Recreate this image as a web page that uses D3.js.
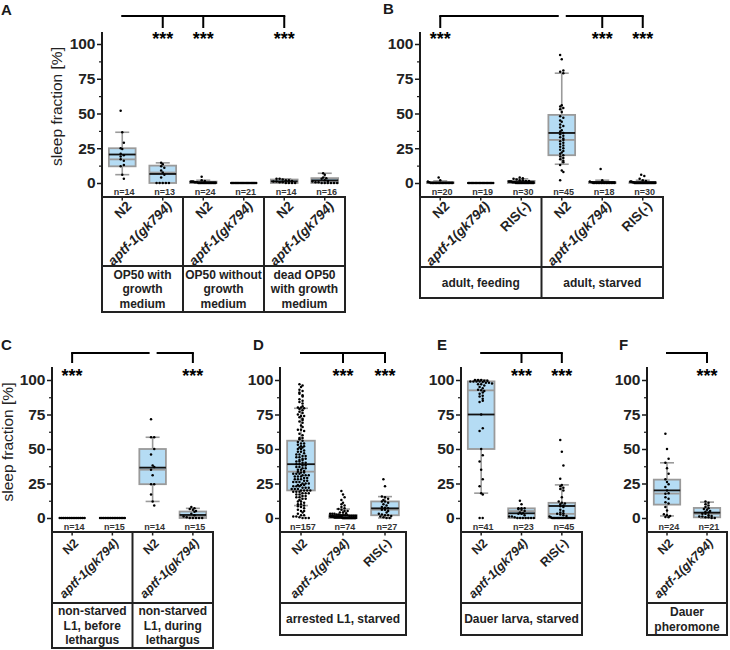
<!DOCTYPE html>
<html><head><meta charset="utf-8">
<script src="https://cdn.jsdelivr.net/npm/d3@7"></script>
<style>
body{margin:0;background:#fff}
svg{display:block}
text{font-family:"Liberation Sans",Arial,Helvetica,sans-serif}
</style>
</head><body>
<svg id="chart" width="730" height="650"></svg>
<script>
// ---------- shared axis ticks ----------
const yTickValues = [0, 25, 50, 75, 100];
const yMinorTickValues = [12.5, 37.5, 62.5, 87.5];
const yAxisTitle = "sleep fraction [%]";

// ---------- Panel A ----------
const aCategories = ["N2", "aptf-1(gk794)", "N2", "aptf-1(gk794)", "N2", "aptf-1(gk794)"];
const aGroupLabels = [["OP50 with", "growth", "medium"], ["OP50 without", "growth", "medium"], ["dead OP50", "with growth", "medium"]];
const aGroupSizes = [2, 2, 2];
const aSampleSizes = [14, 13, 24, 21, 14, 16];
const aQ1 = [12, 0, 0, 0, 0, 0];
const aMedian = [17, 7.5, 0, 0, 0.75, 0.75];
const aMean = [20.5, 6.5, 0.6, 0, 1.2, 1.9];
const aQ3 = [25, 12.5, 1, 0, 2.5, 3.5];
const aWhiskerLow = [6, 0, 0, 0, 0, 0];
const aWhiskerHigh = [36.5, 14.5, 2, 0, 3, 7];
const aPoints = [
  [52, 36.5, 29, 25, 24.5, 21, 20, 19, 17, 16, 13, 12, 6, 3],
  [14.5, 13.5, 12, 11, 9, 7.5, 6, 4, 0, 0, 0, 0, 0],
  [4.5, 2, 1.5, 1, 1, 1, 0.5, 0.5, 0.5, 0, 0, 0, 0, 0, 0, 0, 0, 0, 0, 0, 0, 0, 0, 0],
  [0, 0, 0, 0, 0, 0, 0, 0, 0, 0, 0, 0, 0, 0, 0, 0, 0, 0, 0, 0, 0],
  [3, 3, 2.5, 2, 2, 1.5, 1, 1, 0.5, 0.5, 0, 0, 0, 0],
  [7, 6, 4, 3.5, 3, 2, 1.5, 1, 0.5, 0.5, 0, 0, 0, 0, 0, 0]
];
const aStars = [1, 2, 4];
const aBracket = [0, 4];
const aBracketGap = null;

// ---------- Panel B ----------
const bCategories = ["N2", "aptf-1(gk794)", "RIS(-)", "N2", "aptf-1(gk794)", "RIS(-)"];
const bGroupLabels = [["adult, feeding"], ["adult, starved"]];
const bGroupSizes = [3, 3];
const bSampleSizes = [20, 19, 30, 45, 18, 30];
const bQ1 = [0, 0, 0, 20, 0, 0];
const bMedian = [0, 0, 0, 31, 0, 0];
const bMean = [0.4, 0, 0.9, 36, 0.8, 0.7];
const bQ3 = [0.5, 0, 1.5, 49, 0.5, 0.5];
const bWhiskerLow = [0, 0, 0, 13.5, 0, 0];
const bWhiskerHigh = [1.5, 0, 3, 79, 2, 2];
const bPoints = [
  [4, 2, 1, 0.5, 0, 0, 0, 0, 0, 0, 0, 0, 0, 0, 0, 0, 0, 0, 0, 0],
  [0, 0, 0, 0, 0, 0, 0, 0, 0, 0, 0, 0, 0, 0, 0, 0, 0, 0, 0],
  [4, 3.5, 3, 2.5, 2, 2, 1.5, 1.5, 1, 1, 1, 0.5, 0.5, 0.5, 0, 0, 0, 0, 0, 0, 0, 0, 0, 0, 0, 0, 0, 0, 0, 0],
  [92, 89, 81, 80, 79, 56, 55, 54, 53, 51, 48, 47, 45, 44, 42, 41, 40, 38, 37, 36, 35, 34, 33, 32, 31, 30, 29, 28, 27, 26, 25, 24, 23, 22, 21, 20, 19, 18, 17, 16, 15, 13, 9, 8, 2],
  [10, 2, 1, 0.5, 0, 0, 0, 0, 0, 0, 0, 0, 0, 0, 0, 0, 0, 0],
  [6, 5, 3, 2, 1.5, 1, 1, 0.5, 0.5, 0, 0, 0, 0, 0, 0, 0, 0, 0, 0, 0, 0, 0, 0, 0, 0, 0, 0, 0, 0, 0]
];
const bStars = [0, 4, 5];
const bBracket = [0, 5];
const bBracketGap = 3;

// ---------- Panel C ----------
const cCategories = ["N2", "aptf-1(gk794)", "N2", "aptf-1(gk794)"];
const cGroupLabels = [["non-starved", "L1, before", "lethargus"], ["non-starved", "L1, during", "lethargus"]];
const cGroupSizes = [2, 2];
const cSampleSizes = [14, 15, 14, 15];
const cQ1 = [0, 0, 24.5, 0];
const cMedian = [0, 0, 35, 1];
const cMean = [0, 0, 36.5, 2.2];
const cQ3 = [0, 0, 50, 4.7];
const cWhiskerLow = [0, 0, 12, 0];
const cWhiskerHigh = [0, 0, 58.5, 7];
const cPoints = [
  [0, 0, 0, 0, 0, 0, 0, 0, 0, 0, 0, 0, 0, 0],
  [0, 0, 0, 0, 0, 0, 0, 0, 0, 0, 0, 0, 0, 0, 0],
  [71.5, 58.5, 58.5, 50, 46, 38, 37, 35, 31, 24.5, 24.5, 17, 12, 9],
  [8, 7, 6.5, 6, 5, 4.5, 3, 2, 1, 0.5, 0, 0, 0, 0, 0]
];
const cStars = [0, 3];
const cBracket = [0, 3];
const cBracketGap = 2;

// ---------- Panel D ----------
const dCategories = ["N2", "aptf-1(gk794)", "RIS(-)"];
const dGroupLabels = [["arrested L1, starved"]];
const dGroupSizes = [3];
const dSampleSizes = [157, 74, 27];
const dQ1 = [20, 0, 2];
const dMedian = [33.6, 0.5, 6];
const dMean = [39, 1.8, 7];
const dQ3 = [56, 2, 12];
const dWhiskerLow = [9, 0, 0];
const dWhiskerHigh = [79.5, 6.5, 15.5];
const dPoints = [
  [0, 0, 0, 0.5, 1, 1, 2, 2, 3, 4, 5, 5, 6, 7, 8, 8.5,
   9, 10, 10, 11, 12, 12, 13, 14, 14, 15, 15, 16, 16, 17, 17, 18, 18, 18, 19, 19, 19, 20, 20,
   20, 20, 21, 21, 21, 22, 22, 22, 23, 23, 23, 24, 24, 24, 25, 25, 25, 26, 26, 26, 27, 27, 28, 28, 28, 29, 29, 30, 30, 30, 31, 31, 31, 32, 32, 32, 33, 33, 33.5,
   34,
   35, 35, 36, 36, 37, 37, 38, 38, 39, 39, 40, 40, 41, 41, 42, 42, 43, 43, 44, 44, 45, 45, 46, 46, 47, 48, 48, 49, 50, 50, 51, 51, 52, 52, 53, 54, 54, 55, 56,
   57, 58, 58, 60, 61, 63, 64, 64, 66, 67, 69, 70, 71, 72, 73, 74, 74, 75, 76, 77, 78, 79, 79.5,
   80, 80, 81, 83, 84, 85, 86, 88, 89, 90, 91, 92, 93, 95, 96, 97],
  [19.5, 17, 15, 13, 11, 10, 9, 8, 7, 6.5, 6, 5, 5, 4, 4, 3.5, 3, 3, 3, 2.5, 2.5, 2, 2, 2, 2,
   1.5, 1.5, 1.5, 1.5, 1, 1, 1, 1, 1, 1, 1,
   0.5, 0.5, 0.5, 0.5, 0.5, 0.5, 0.5, 0.5, 0.5, 0.5, 0.5, 0.5, 0.5, 0.5,
   0, 0, 0, 0, 0, 0, 0, 0, 0, 0, 0, 0, 0, 0, 0, 0, 0, 0, 0, 0, 0, 0, 0, 0],
  [28, 23, 15.5, 15, 14, 13, 12, 12, 11, 10, 9, 8, 7.5, 7, 6, 6, 5, 4, 3, 2.5, 2, 2, 1.5, 1, 0.5, 0, 0]
];
const dStars = [1, 2];
const dBracket = [0, 2];
const dBracketGap = null;

// ---------- Panel E ----------
const eCategories = ["N2", "aptf-1(gk794)", "RIS(-)"];
const eGroupLabels = [["Dauer larva, starved"]];
const eGroupSizes = [3];
const eSampleSizes = [41, 23, 45];
const eQ1 = [50, 0, 0];
const eMedian = [92.5, 5, 3];
const eMean = [75, 3.4, 8.7];
const eQ3 = [99, 7, 11];
const eWhiskerLow = [18, 0, 0];
const eWhiskerHigh = [100, 7, 24];
const ePoints = [
  [100, 100, 100, 99.5, 99.5, 99, 99, 99, 99, 98.5, 98, 98, 97.5, 97, 97, 96, 95, 94, 93, 92.5, 92, 91, 90, 88.5, 88, 86.5, 85, 84,
   75, 65, 63, 50, 45.5, 41, 35, 28, 23, 18, 17, 0, 0],
  [12.5, 10, 7, 7, 7, 6.5, 6, 5, 4, 3.5, 3, 3, 2, 1, 1, 0.5, 0, 0, 0, 0, 0, 0, 0],
  [56.5, 48, 38, 28.5, 24, 23, 22, 21, 20, 15, 12, 11, 10.5, 10, 9, 8.5, 8, 6, 5, 4, 3.5, 3, 2.5, 2, 1.5, 1, 0.5,
   0, 0, 0, 0, 0, 0, 0, 0, 0, 0, 0, 0, 0, 0, 0, 0, 0, 0]
];
const eStars = [1, 2];
const eBracket = [0, 2];
const eBracketGap = null;

// ---------- Panel F ----------
const fCategories = ["N2", "aptf-1(gk794)"];
const fGroupLabels = [["Dauer", "pheromone"]];
const fGroupSizes = [2];
const fSampleSizes = [24, 21];
const fQ1 = [9.7, 0.5];
const fMedian = [17.7, 3];
const fMean = [20, 3.9];
const fQ3 = [27.8, 7.3];
const fWhiskerLow = [1.5, 0];
const fWhiskerHigh = [40, 11.5];
const fPoints = [
  [61, 50, 43, 40, 36, 32, 28, 26, 24.5, 22.5, 20, 18, 17.5, 15, 14, 11.5, 10.5, 8, 5.5, 2.7, 2, 1.5, 0.7, 0.5],
  [12, 11, 10, 9, 8, 7, 6.5, 6, 5, 4.5, 4, 3, 3, 2, 1.5, 1, 1, 0.5, 0.5, 0, 0]
];
const fStars = [1];
const fBracket = [0, 1];
const fBracketGap = null;

// ---------- layout ----------
const topRow = {y0: 183, y100: 44, axisTop: 32, boxTop: 197, bracketY: 16, dropY: 28, starBase: 45, catFont: 13.5, catDx: 10, catDy: 10};
const botRow = {y0: 518, y100: 380, axisTop: 367, boxTop: 532, bracketY: 353, dropY: 363, starBase: 381.5, catFont: 12.5, catDx: 7, catDy: 12};

const panels = [
  Object.assign({}, topRow, {label: "A", lx: 1, ly: 15, axisX: 102, right: 345, divY: 266, bottom: 312, titleX: 62,
    categories: aCategories, groups: aGroupLabels, groupSizes: aGroupSizes, n: aSampleSizes, q1: aQ1, median: aMedian, mean: aMean, q3: aQ3, wlo: aWhiskerLow, whi: aWhiskerHigh, points: aPoints, stars: aStars, bracket: aBracket, gap: aBracketGap}),
  Object.assign({}, topRow, {label: "B", lx: 383, ly: 14, axisX: 420, right: 663, divY: 267, bottom: 298, titleX: null,
    categories: bCategories, groups: bGroupLabels, groupSizes: bGroupSizes, n: bSampleSizes, q1: bQ1, median: bMedian, mean: bMean, q3: bQ3, wlo: bWhiskerLow, whi: bWhiskerHigh, points: bPoints, stars: bStars, bracket: bBracket, gap: bBracketGap}),
  Object.assign({}, botRow, {label: "C", lx: 1, ly: 350, axisX: 52, right: 213, divY: 603, bottom: 648, titleX: 12.5,
    categories: cCategories, groups: cGroupLabels, groupSizes: cGroupSizes, n: cSampleSizes, q1: cQ1, median: cMedian, mean: cMean, q3: cQ3, wlo: cWhiskerLow, whi: cWhiskerHigh, points: cPoints, stars: cStars, bracket: cBracket, gap: cBracketGap}),
  Object.assign({}, botRow, {label: "D", lx: 253, ly: 350, axisX: 280, right: 406, divY: 603, bottom: 635, titleX: null,
    categories: dCategories, groups: dGroupLabels, groupSizes: dGroupSizes, n: dSampleSizes, q1: dQ1, median: dMedian, mean: dMean, q3: dQ3, wlo: dWhiskerLow, whi: dWhiskerHigh, points: dPoints, stars: dStars, bracket: dBracket, gap: dBracketGap}),
  Object.assign({}, botRow, {label: "E", lx: 437, ly: 350, axisX: 461, right: 582, divY: 603, bottom: 635, titleX: null,
    categories: eCategories, groups: eGroupLabels, groupSizes: eGroupSizes, n: eSampleSizes, q1: eQ1, median: eMedian, mean: eMean, q3: eQ3, wlo: eWhiskerLow, whi: eWhiskerHigh, points: ePoints, stars: eStars, bracket: eBracket, gap: eBracketGap}),
  Object.assign({}, botRow, {label: "F", lx: 619, ly: 350, axisX: 647, right: 727, divY: 603, bottom: 635, titleX: null,
    categories: fCategories, groups: fGroupLabels, groupSizes: fGroupSizes, n: fSampleSizes, q1: fQ1, median: fMedian, mean: fMean, q3: fQ3, wlo: fWhiskerLow, whi: fWhiskerHigh, points: fPoints, stars: fStars, bracket: fBracket, gap: fBracketGap})
];

const BOX_FILL = "#b5dcf4", BOX_STROKE = "#9a9a9a", INK = "#1a1a1a";
const svg = d3.select("#chart");

// deterministic point layout: spread points that share a pixel row
function layoutPoints(values, y, halfW) {
  const pts = values.map(v => ({v: v, y: y(v)})).sort((a, b) => a.y - b.y);
  const rows = d3.group(pts, p => Math.round(p.y / 2.5));
  let r = 0;
  rows.forEach(arr => {
    const k = arr.length;
    const s = k > 1 ? Math.min(3.1, (2 * halfW) / (k - 1)) : 0;
    const shift = (k === 1) ? ((r % 3) - 1) * 1.6 : 0;
    arr.forEach((p, i) => { p.dx = (i - (k - 1) / 2) * s + shift; });
    r++;
  });
  return pts;
}

panels.forEach(P => {
  const g = svg.append("g");
  const nCat = P.categories.length;
  const x = d3.scaleBand().domain(d3.range(nCat)).range([P.axisX, P.right]).paddingInner(0).paddingOuter(0);
  const bw = x.bandwidth();
  const cx = i => x(i) + bw / 2;
  const y = d3.scaleLinear().domain([0, 100]).range([P.y0, P.y100]);

  // panel letter
  g.append("text").attr("x", P.lx).attr("y", P.ly).text(P.label)
    .attr("font-size", 15).attr("font-weight", "bold").attr("fill", INK);

  // y axis
  g.append("line").attr("x1", P.axisX).attr("x2", P.axisX).attr("y1", P.axisTop).attr("y2", P.boxTop)
    .attr("stroke", INK).attr("stroke-width", 2);
  const ax = g.append("g").attr("transform", `translate(${P.axisX},0)`)
    .call(d3.axisLeft(y).tickValues(yTickValues).tickSize(5).tickPadding(1.5));
  ax.select(".domain").remove();
  ax.selectAll(".tick line").attr("stroke", INK).attr("stroke-width", 1.5);
  ax.selectAll(".tick text").attr("font-size", 15.5).attr("font-weight", "bold").attr("fill", "#222")
    .attr("font-family", "Liberation Sans, Arial, sans-serif");
  const axm = g.append("g").attr("transform", `translate(${P.axisX},0)`)
    .call(d3.axisLeft(y).tickValues(yMinorTickValues).tickSize(3).tickFormat(""));
  axm.select(".domain").remove();
  axm.selectAll(".tick line").attr("stroke", INK).attr("stroke-width", 1.2);

  if (P.titleX !== null) {
    g.append("text").attr("transform", `translate(${P.titleX},${(P.y0 + P.y100) / 2 - 7}) rotate(-90)`)
      .attr("text-anchor", "middle").attr("font-size", 15.5).attr("fill", "#222").text(yAxisTitle);
  }

  // boxes
  const boxW = bw * 0.66, capW = 14;
  P.categories.forEach((c, i) => {
    const X = cx(i);
    const gb = g.append("g");
    if (P.whi[i] > P.q3[i]) {
      gb.append("line").attr("x1", X).attr("x2", X).attr("y1", y(P.q3[i])).attr("y2", y(P.whi[i]))
        .attr("stroke", BOX_STROKE).attr("stroke-width", 1.6);
      gb.append("line").attr("x1", X - capW / 2).attr("x2", X + capW / 2).attr("y1", y(P.whi[i])).attr("y2", y(P.whi[i]))
        .attr("stroke", BOX_STROKE).attr("stroke-width", 1.6);
    }
    if (P.wlo[i] < P.q1[i]) {
      gb.append("line").attr("x1", X).attr("x2", X).attr("y1", y(P.q1[i])).attr("y2", y(P.wlo[i]))
        .attr("stroke", BOX_STROKE).attr("stroke-width", 1.6);
      gb.append("line").attr("x1", X - capW / 2).attr("x2", X + capW / 2).attr("y1", y(P.wlo[i])).attr("y2", y(P.wlo[i]))
        .attr("stroke", BOX_STROKE).attr("stroke-width", 1.6);
    }
    gb.append("rect").attr("x", X - boxW / 2).attr("width", boxW)
      .attr("y", y(P.q3[i])).attr("height", Math.max(0, y(P.q1[i]) - y(P.q3[i])))
      .attr("fill", BOX_FILL).attr("stroke", BOX_STROKE).attr("stroke-width", 1.8);
    gb.append("line").attr("x1", X - boxW / 2).attr("x2", X + boxW / 2).attr("y1", y(P.median[i])).attr("y2", y(P.median[i]))
      .attr("stroke", BOX_STROKE).attr("stroke-width", 1.8);
    gb.append("line").attr("x1", X - boxW / 2).attr("x2", X + boxW / 2).attr("y1", y(P.mean[i])).attr("y2", y(P.mean[i]))
      .attr("stroke", "#111").attr("stroke-width", 1.8);
    const pts = layoutPoints(P.points[i], y, boxW / 2 - 1);
    gb.selectAll("circle").data(pts).join("circle")
      .attr("cx", d => X + d.dx).attr("cy", d => d.y).attr("r", 1.25).attr("fill", "#000");
    g.append("text").attr("x", X + 2).attr("y", P.boxTop - 2.5).attr("text-anchor", "middle")
      .attr("font-size", 9).attr("font-weight", "bold").attr("fill", "#333").text("n=" + P.n[i]);
  });

  // label table
  g.append("rect").attr("x", P.axisX).attr("y", P.boxTop).attr("width", P.right - P.axisX).attr("height", P.bottom - P.boxTop)
    .attr("fill", "none").attr("stroke", "#222").attr("stroke-width", 2);
  g.append("line").attr("x1", P.axisX).attr("x2", P.right).attr("y1", P.divY).attr("y2", P.divY)
    .attr("stroke", "#222").attr("stroke-width", 2);
  P.categories.forEach((c, i) => {
    g.append("line").attr("x1", cx(i)).attr("x2", cx(i)).attr("y1", P.boxTop).attr("y2", P.boxTop + 3.5)
      .attr("stroke", "#222").attr("stroke-width", 1.5);
    const t = g.append("text").attr("transform", `translate(${cx(i) + P.catDx},${P.boxTop + P.catDy}) rotate(-45)`)
      .attr("text-anchor", "end").attr("font-size", P.catFont).attr("font-weight", "bold").attr("fill", "#222").text(c);
    if (c.startsWith("aptf")) t.attr("font-style", "italic");
  });
  let start = 0;
  P.groups.forEach((lines, j) => {
    const size = P.groupSizes[j];
    const gx0 = x(start), gx1 = x(start + size - 1) + bw;
    if (start > 0) {
      g.append("line").attr("x1", gx0).attr("x2", gx0).attr("y1", P.boxTop).attr("y2", P.bottom)
        .attr("stroke", "#222").attr("stroke-width", 2);
    }
    const lh = 14.5, mid = (P.divY + P.bottom) / 2;
    const t = g.append("text").attr("text-anchor", "middle").attr("font-size", 12).attr("font-weight", "bold").attr("fill", "#222");
    lines.forEach((ln, k) => {
      t.append("tspan").attr("x", (gx0 + gx1) / 2).attr("y", mid - (lines.length - 1) / 2 * lh + k * lh + 4.3).text(ln);
    });
    start += size;
  });

  // significance bracket
  const bx0 = cx(P.bracket[0]), bx1 = cx(P.bracket[1]);
  const bracketLine = (a, b) => g.append("line").attr("x1", a).attr("x2", b).attr("y1", P.bracketY).attr("y2", P.bracketY)
    .attr("stroke", "#000").attr("stroke-width", 2);
  if (P.gap === null) bracketLine(bx0 - 1, bx1 + 1);
  else { bracketLine(bx0 - 1, cx(P.gap) - 3); bracketLine(cx(P.gap) + 4, bx1 + 1); }
  P.stars.forEach(s => {
    g.append("line").attr("x1", cx(s)).attr("x2", cx(s)).attr("y1", P.bracketY).attr("y2", P.dropY)
      .attr("stroke", "#000").attr("stroke-width", 2);
    g.append("text").attr("x", cx(s)).attr("y", P.starBase).attr("text-anchor", "middle")
      .attr("font-size", 18).attr("font-weight", "bold").attr("fill", "#000").text("***");
  });
});
</script>
</body></html>
